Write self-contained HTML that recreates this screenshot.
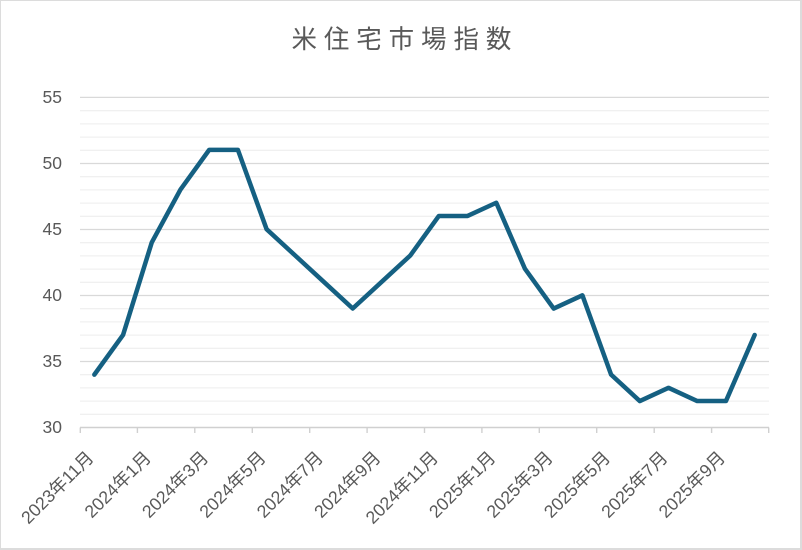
<!DOCTYPE html>
<html>
<head>
<meta charset="utf-8">
<style>
  html, body { margin:0; padding:0; background:#ffffff; }
  body { width:802px; height:550px; overflow:hidden; }
  svg { display:block; }
</style>
</head>
<body>
<svg width="802" height="550" viewBox="0 0 802 550" xmlns="http://www.w3.org/2000/svg">
  <!-- frame -->
  <rect x="0" y="0" width="802" height="550" fill="#dcdcdc"/>
  <rect x="1" y="1" width="799" height="547" fill="#ffffff"/>

  <!-- title -->
  <g font-family="'Liberation Sans', 'Noto Sans CJK JP', sans-serif" font-size="25.5" fill="#595959" text-anchor="middle">
    <text x="304.2" y="48">米</text>
    <text x="336.6" y="48">住</text>
    <text x="369" y="48">宅</text>
    <text x="401.4" y="48">市</text>
    <text x="433.8" y="48">場</text>
    <text x="466.2" y="48">指</text>
    <text x="498.6" y="48">数</text>
  </g>

  <!-- minor gridlines -->
  <g stroke="#f0f0f0" stroke-width="1.3">
    <line x1="80" x2="769" y1="110.7" y2="110.7"/>
    <line x1="80" x2="769" y1="123.9" y2="123.9"/>
    <line x1="80" x2="769" y1="137.1" y2="137.1"/>
    <line x1="80" x2="769" y1="150.3" y2="150.3"/>
    <line x1="80" x2="769" y1="176.7" y2="176.7"/>
    <line x1="80" x2="769" y1="189.9" y2="189.9"/>
    <line x1="80" x2="769" y1="203.1" y2="203.1"/>
    <line x1="80" x2="769" y1="216.3" y2="216.3"/>
    <line x1="80" x2="769" y1="242.7" y2="242.7"/>
    <line x1="80" x2="769" y1="255.9" y2="255.9"/>
    <line x1="80" x2="769" y1="269.1" y2="269.1"/>
    <line x1="80" x2="769" y1="282.3" y2="282.3"/>
    <line x1="80" x2="769" y1="308.7" y2="308.7"/>
    <line x1="80" x2="769" y1="321.9" y2="321.9"/>
    <line x1="80" x2="769" y1="335.1" y2="335.1"/>
    <line x1="80" x2="769" y1="348.3" y2="348.3"/>
    <line x1="80" x2="769" y1="374.7" y2="374.7"/>
    <line x1="80" x2="769" y1="387.9" y2="387.9"/>
    <line x1="80" x2="769" y1="401.1" y2="401.1"/>
    <line x1="80" x2="769" y1="414.3" y2="414.3"/>
  </g>
  <!-- major gridlines -->
  <g stroke="#d9d9d9" stroke-width="1.3">
    <line x1="80" x2="769" y1="97.4" y2="97.4"/>
    <line x1="80" x2="769" y1="163.5" y2="163.5"/>
    <line x1="80" x2="769" y1="229.5" y2="229.5"/>
    <line x1="80" x2="769" y1="295.5" y2="295.5"/>
    <line x1="80" x2="769" y1="361.5" y2="361.5"/>
  </g>
  <!-- axis + ticks -->
  <g stroke="#d0d0d0" stroke-width="1.4">
    <line x1="80" x2="769" y1="427.5" y2="427.5"/>
    <line x1="80.3" x2="80.3" y1="427.5" y2="433"/>
    <line x1="137.4" x2="137.4" y1="427.5" y2="433"/>
    <line x1="194.8" x2="194.8" y1="427.5" y2="433"/>
    <line x1="252.3" x2="252.3" y1="427.5" y2="433"/>
    <line x1="309.7" x2="309.7" y1="427.5" y2="433"/>
    <line x1="367.1" x2="367.1" y1="427.5" y2="433"/>
    <line x1="424.5" x2="424.5" y1="427.5" y2="433"/>
    <line x1="481.9" x2="481.9" y1="427.5" y2="433"/>
    <line x1="539.3" x2="539.3" y1="427.5" y2="433"/>
    <line x1="596.7" x2="596.7" y1="427.5" y2="433"/>
    <line x1="654.2" x2="654.2" y1="427.5" y2="433"/>
    <line x1="711.6" x2="711.6" y1="427.5" y2="433"/>
    <line x1="768.7" x2="768.7" y1="427.5" y2="433"/>
  </g>

  <!-- y labels -->
  <g font-family="'Liberation Sans', sans-serif" font-size="17.5" fill="#595959" text-anchor="end" dominant-baseline="central">
    <text x="62" y="97">55</text>
    <text x="62" y="163">50</text>
    <text x="62" y="229">45</text>
    <text x="62" y="295">40</text>
    <text x="62" y="361">35</text>
    <text x="62" y="427">30</text>
  </g>

  <!-- x labels -->
  <g font-family="'Liberation Sans', 'Noto Sans CJK JP', sans-serif" font-size="17.8" fill="#595959" text-anchor="end" dominant-baseline="central">
    <text transform="translate(90.4,454.5) rotate(-45)">2023年11月</text>
    <text transform="translate(147.8,454.5) rotate(-45)">2024年1月</text>
    <text transform="translate(205.2,454.5) rotate(-45)">2024年3月</text>
    <text transform="translate(262.6,454.5) rotate(-45)">2024年5月</text>
    <text transform="translate(320.0,454.5) rotate(-45)">2024年7月</text>
    <text transform="translate(377.4,454.5) rotate(-45)">2024年9月</text>
    <text transform="translate(434.9,454.5) rotate(-45)">2024年11月</text>
    <text transform="translate(492.3,454.5) rotate(-45)">2025年1月</text>
    <text transform="translate(549.7,454.5) rotate(-45)">2025年3月</text>
    <text transform="translate(607.1,454.5) rotate(-45)">2025年5月</text>
    <text transform="translate(664.5,454.5) rotate(-45)">2025年7月</text>
    <text transform="translate(721.9,454.5) rotate(-45)">2025年9月</text>
  </g>

  <!-- series -->
  <polyline fill="none" stroke="#156082" stroke-width="4.5" stroke-linejoin="round" stroke-linecap="round"
    points="94.35,374.62 123.06,334.96 151.77,242.42 180.48,189.54 209.19,149.88 237.90,149.88 266.60,229.2 295.31,255.64 324.02,282.08 352.73,308.52 381.44,282.08 410.15,255.64 438.85,215.98 467.56,215.98 496.27,202.76 524.98,268.86 553.69,308.52 582.40,295.3 611.10,374.62 639.81,401.06 668.52,387.84 697.23,401.06 725.94,401.06 754.65,334.96"/>
</svg>
</body>
</html>
